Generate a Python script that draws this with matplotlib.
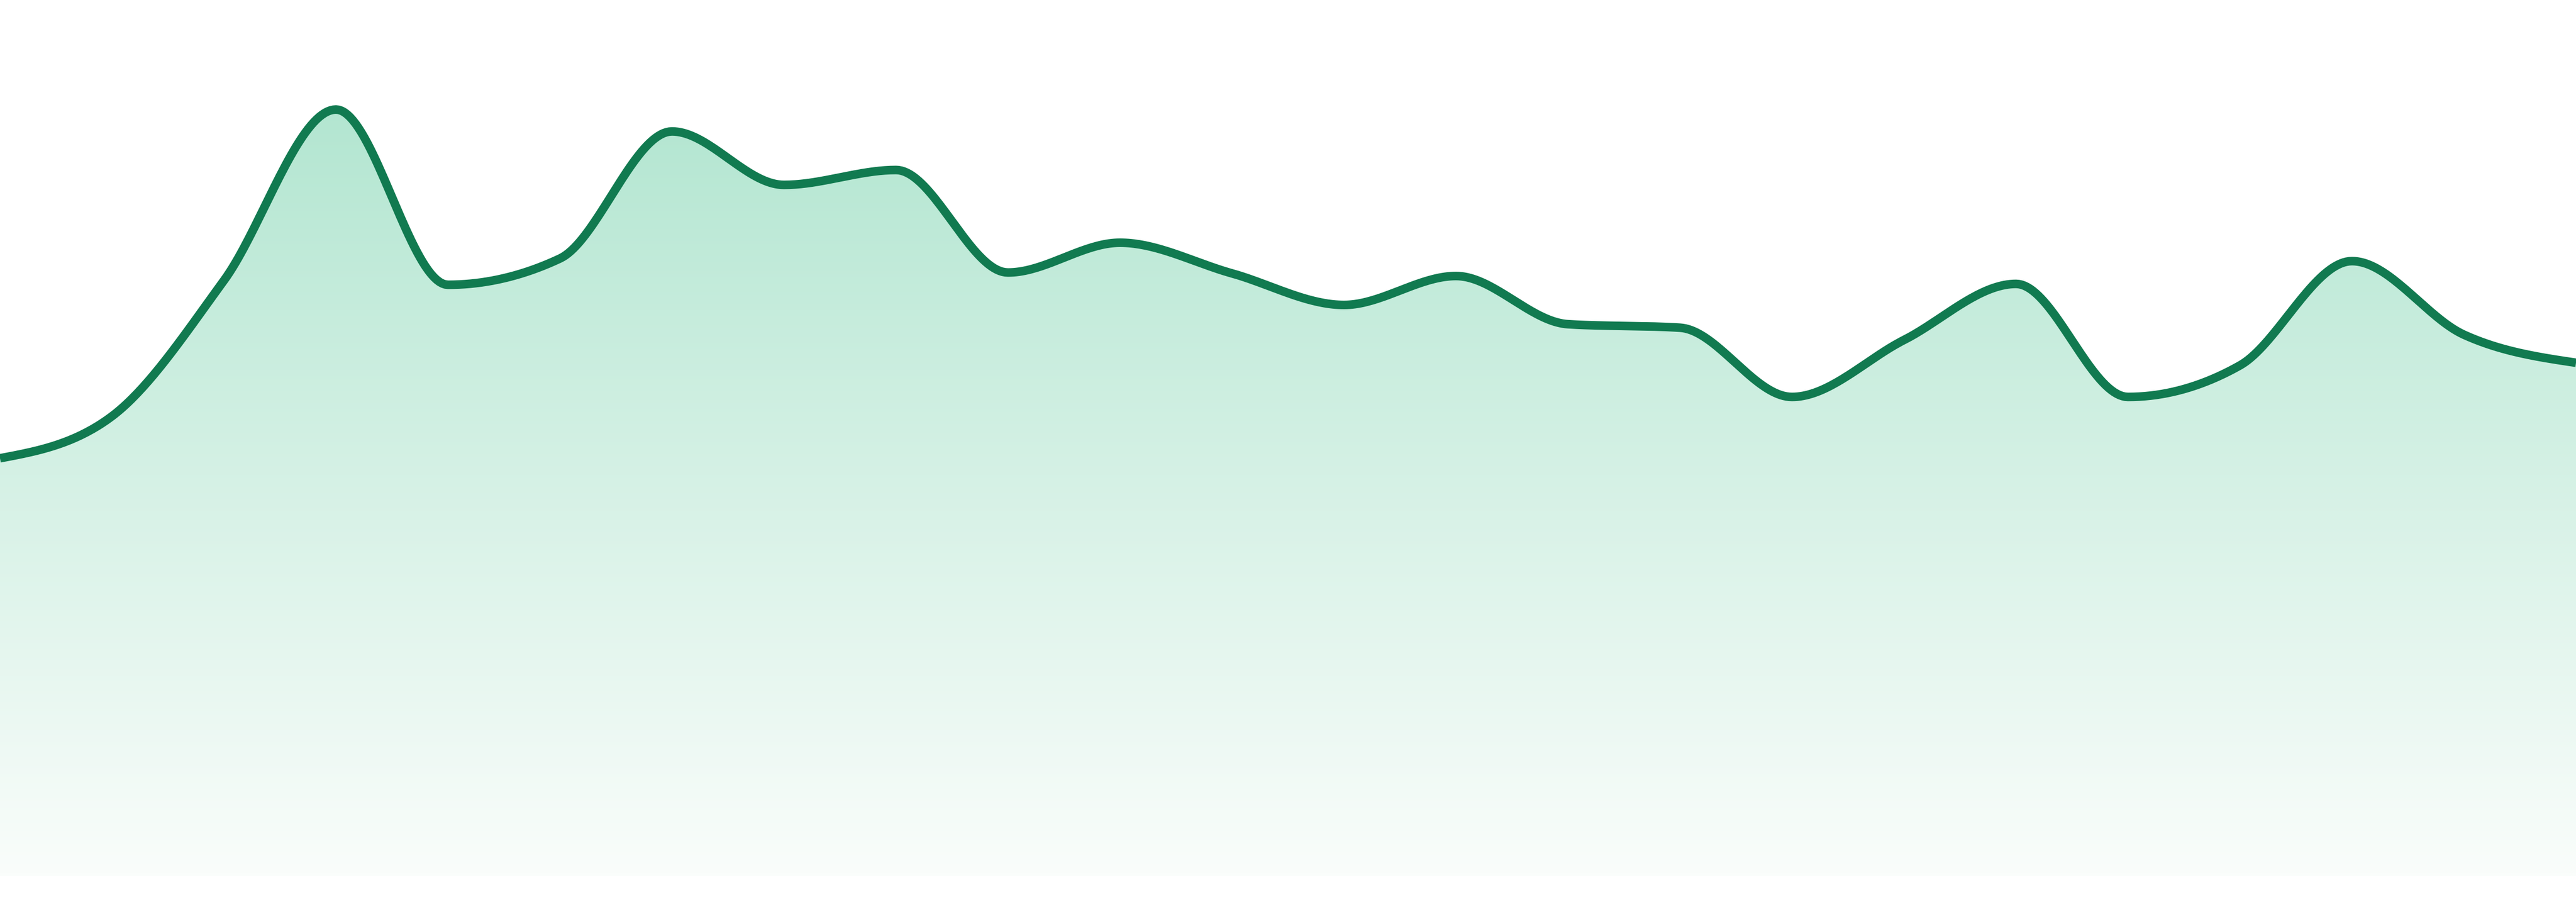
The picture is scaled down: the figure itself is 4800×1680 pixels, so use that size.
import numpy as np
import matplotlib
matplotlib.use("Agg")
import matplotlib.pyplot as plt
from matplotlib.colors import LinearSegmentedColormap

# values (0 = bottom of the filled area)
values = [47.7, 52.5, 68.0, 87.5, 67.5, 70.5, 85.0, 78.9, 80.6, 68.9, 72.3, 68.8,
          65.2, 68.5, 63.0, 62.6, 54.7, 61.2, 67.6, 54.7, 58.3, 70.2, 61.8, 58.6]
x_idx = list(range(len(values)))

line_color = "#117a50"
fill_top = "#b3e6d1"
fill_bottom = "#fafdfb"


def monotone_x(x, y, n=40):
   # same smoothing as d3 curveMonotoneX
   x = np.asarray(x, float)
   y = np.asarray(y, float)
   h = np.diff(x)
   s = np.diff(y) / h
   t = np.zeros(len(x))
   for i in range(1, len(x) - 1):
      p = (s[i - 1] * h[i] + s[i] * h[i - 1]) / (h[i - 1] + h[i])
      t[i] = (np.sign(s[i - 1]) + np.sign(s[i])) * min(abs(s[i - 1]), abs(s[i]), 0.5 * abs(p))
   t[0] = (3 * s[0] - t[1]) / 2 if len(x) > 2 else s[0]
   t[-1] = (3 * s[-1] - t[-2]) / 2 if len(x) > 2 else s[-1]
   xs, ys = [], []
   for i in range(len(x) - 1):
      u = np.linspace(0, 1, n, endpoint=False)
      h00 = 2 * u**3 - 3 * u**2 + 1
      h10 = u**3 - 2 * u**2 + u
      h01 = -2 * u**3 + 3 * u**2
      h11 = u**3 - u**2
      xs.append(x[i] + u * h[i])
      ys.append(h00 * y[i] + h10 * h[i] * t[i] + h01 * y[i + 1] + h11 * h[i] * t[i + 1])
   xs.append([x[-1]])
   ys.append([y[-1]])
   return np.concatenate(xs), np.concatenate(ys)


fig = plt.figure(figsize=(48, 16.8), dpi=100)
ax = fig.add_axes([0, 48 / 1680, 1, 1632 / 1680])
ax.set_xlim(0, len(values) - 1)
ax.set_ylim(0, 100)
ax.axis("off")

sx, sy = monotone_x(x_idx, values)

# gradient fill clipped to the area under the curve
area = ax.fill_between(sx, 0, sy, facecolor="none", edgecolor="none")
top_val = max(values)
cmap = LinearSegmentedColormap.from_list("g", [fill_bottom, fill_top])
grad = np.linspace(0, 1, 256).reshape(-1, 1)
img = ax.imshow(grad, cmap=cmap, aspect="auto", origin="lower",
                extent=[0, len(values) - 1, 0, top_val], zorder=1)
img.set_clip_path(area.get_paths()[0], transform=ax.transData)

ax.plot(sx, sy, color=line_color, lw=11.5, solid_capstyle="butt", zorder=2)

fig.savefig("out.png", dpi=100, facecolor="white")
